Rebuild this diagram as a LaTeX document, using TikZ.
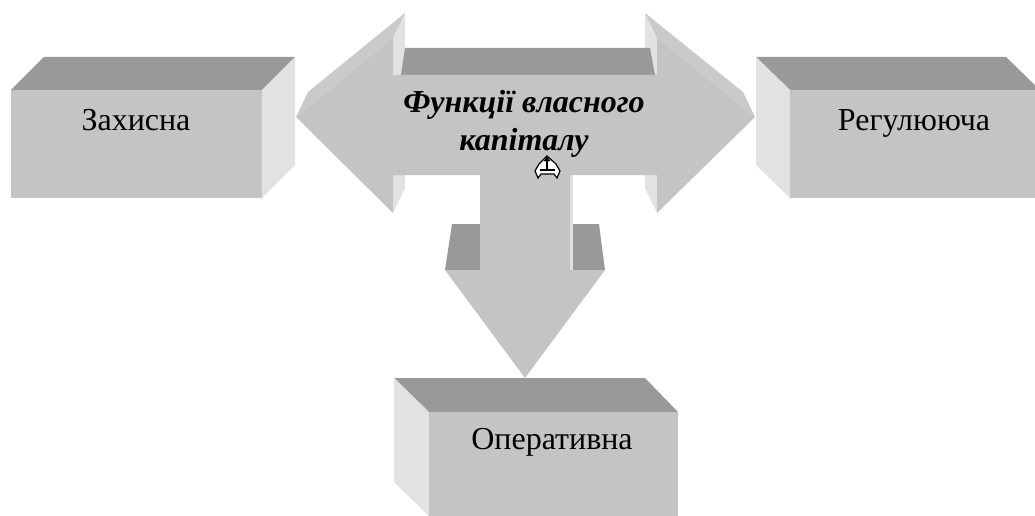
\documentclass[tikz,border=0pt]{standalone}
\usepackage{fontspec}
\setmainfont{Liberation Serif}
\definecolor{frontgray}{RGB}{196,196,196}
\definecolor{slantgray}{RGB}{202,202,202}
\definecolor{topgray}{RGB}{153,153,153}
\definecolor{sidegray}{RGB}{226,226,226}
\tikzset{
  frontface/.style={fill=frontgray},
  slantface/.style={fill=slantgray},
  topface/.style={fill=topgray},
  sideface/.style={fill=sidegray},
  boxlabel/.style={font=\fontsize{32}{38}\selectfont, anchor=base, inner sep=0pt},
  titlelabel/.style={font=\fontsize{32}{38}\selectfont\bfseries\itshape, anchor=base, inner sep=0pt}
}
\begin{document}
\begin{tikzpicture}[x=1pt,y=-1pt]
  \clip (0,0) rectangle (1035,516);

  % left box
  \fill[topface] (11,90) -- (44,57) -- (295,57) -- (262,90) -- cycle;
  \fill[sideface] (262,90) -- (295,57) -- (295,165) -- (262,198) -- cycle;
  \fill[frontface] (11,90) rectangle (262,198);
  \node[boxlabel] (zakhysna) at (136,131) {Захисна};

  % right box
  \fill[topface] (790,90) -- (756,57) -- (1006,57) -- (1040,90) -- cycle;
  \fill[sideface] (790,90) -- (756,57) -- (756,165) -- (790,198) -- cycle;
  \fill[frontface] (790,90) rectangle (1040,198);
  \node[boxlabel] (rehuliuiucha) at (914,131) {Регулююча};

  % bottom box
  \fill[topface] (429,412) -- (394,378) -- (645,378) -- (678,412) -- cycle;
  \fill[sideface] (429,412) -- (394,378) -- (394,482) -- (429,516) -- cycle;
  \fill[frontface] (429,412) rectangle (678,530);
  \node[boxlabel] (operatyvna) at (552,449) {Оперативна};

  % the three-way arrow
  \fill[sideface] (393,38) -- (405,13) -- (405,188) -- (393,213) -- cycle;
  \fill[sideface] (657,38) -- (645,13) -- (645,188) -- (657,213) -- cycle;
  \fill[slantface] (296,117) -- (308,92) -- (405,13) -- (393,38) -- cycle;
  \fill[slantface] (755,117) -- (743,92) -- (645,13) -- (657,38) -- cycle;
  \fill[topface] (401,75) -- (405,48) -- (650,48) -- (655,75) -- cycle;
  \fill[topface] (445,270) -- (452,224) -- (480,224) -- (480,270) -- cycle;
  \fill[topface] (570,270) -- (570,224) -- (599,224) -- (605,270) -- cycle;
  \fill[sideface] (570,175) rectangle (573,270);
  \fill[frontface] (296,117) -- (393,38) -- (393,75) -- (657,75) -- (657,38)
    -- (755,117) -- (657,213) -- (657,175) -- (570,175) -- (570,270)
    -- (605,270) -- (525,378) -- (445,270) -- (480,270) -- (480,175)
    -- (393,175) -- (393,213) -- cycle;
  \node[titlelabel] (funktsii) at (524,113) {Функції власного};
  \node[titlelabel] (kapitalu) at (524,150) {капіталу};

  % move handle
  \draw[fill=white, line width=1.2pt] (547,156) -- (556,164) -- (560,171)
    -- (557,178) -- (554,174) -- (541,174) -- (538,178) -- (535,171)
    -- (539,164) -- cycle;
  \draw[line width=1.2pt] (547,159) -- (547,170) (540,170) -- (555,170);
  \draw[fill=black] (547,157) -- (544,161) -- (550,161) -- cycle;
\end{tikzpicture}
\end{document}
